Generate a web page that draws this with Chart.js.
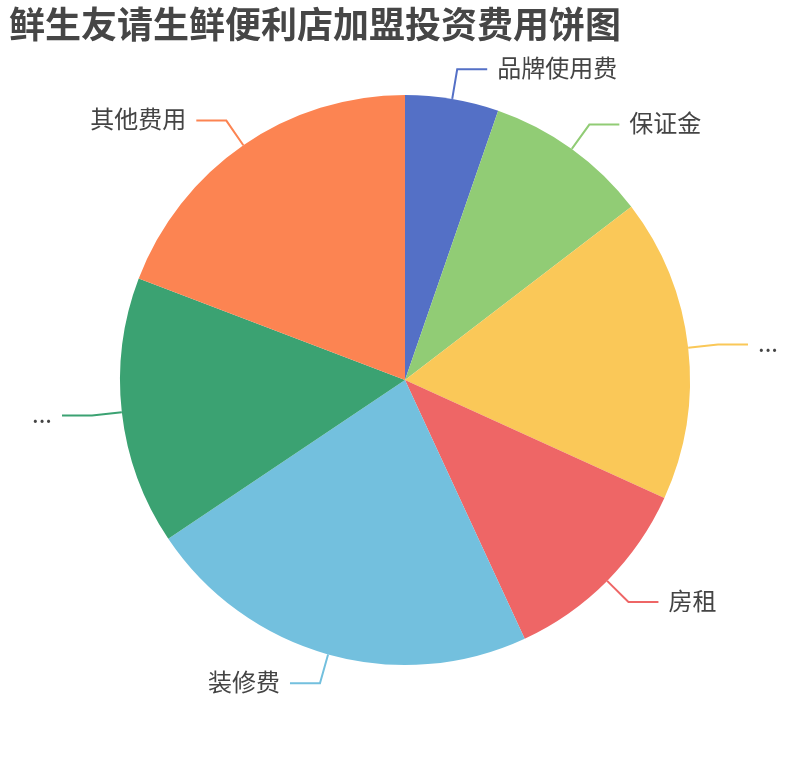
<!DOCTYPE html>
<html>
<head>
<meta charset="utf-8">
<script src="https://cdn.jsdelivr.net/npm/chart.js@4/dist/chart.umd.min.js"></script>
<style>
  html, body { margin: 0; padding: 0; background: #fff; }
  #wrap { width: 810px; height: 760px; position: relative; }
</style>
</head>
<body>
<div id="wrap"><canvas id="pieChart"></canvas></div>
<script>
const chartTitle = '鲜生友请生鲜便利店加盟投资费用饼图';
const categories = ['品牌使用费', '保证金', '...', '房租', '装修费', '...', '其他费用'];
const shares = [5.3, 9.3, 17.2, 11.3, 22.5, 15.2, 19.2];
const colors = ['#5470c6', '#91cc75', '#fac858', '#ee6666', '#73c0de', '#3ba272', '#fc8452'];

const FONT = '"Noto Sans CJK SC", "Noto Sans", sans-serif';

// outside labels with two-segment leader lines
const outsideLabels = {
    id: 'outsideLabels',
    afterDatasetsDraw(chart) {
        const ctx = chart.ctx;
        const meta = chart.getDatasetMeta(0);
        ctx.save();
        meta.data.forEach((arc, i) => {
            const p = arc.getProps(['x', 'y', 'startAngle', 'endAngle', 'outerRadius'], true);
            const mid = (p.startAngle + p.endAngle) / 2;
            const cos = Math.cos(mid), sin = Math.sin(mid);
            const x0 = p.x + p.outerRadius * cos, y0 = p.y + p.outerRadius * sin;
            const x1 = p.x + (p.outerRadius + 30) * cos, y1 = p.y + (p.outerRadius + 30) * sin;
            const right = cos >= 0;
            const x2 = x1 + (right ? 30 : -30);

            ctx.strokeStyle = colors[i];
            ctx.lineWidth = 2;
            ctx.beginPath();
            ctx.moveTo(x0, y0);
            ctx.lineTo(x1, y1);
            ctx.lineTo(x2, y1);
            ctx.stroke();

            ctx.fillStyle = '#444';
            ctx.font = '24px ' + FONT;
            ctx.textAlign = right ? 'left' : 'right';
            ctx.textBaseline = 'middle';
            ctx.fillText(categories[i], x2 + (right ? 10 : -10), y1 - 1.5);
        });

        ctx.fillStyle = '#464646';
        ctx.font = 'bold 36px ' + FONT;
        ctx.textAlign = 'left';
        ctx.textBaseline = 'middle';
        ctx.fillText(chartTitle, 9, 24);
        ctx.restore();
    }
};

new Chart(document.getElementById('pieChart'), {
    type: 'pie',
    data: {
        labels: categories,
        datasets: [{
            data: shares,
            backgroundColor: colors,
            borderWidth: 0
        }]
    },
    options: {
        responsive: true, maintainAspectRatio: false,
        animation: false,
        radius: 285,
        layout: { padding: 0 },
        plugins: {
            legend: { display: false },
            tooltip: { enabled: false }
        }
    },
    plugins: [outsideLabels]
});
</script>
</body>
</html>
